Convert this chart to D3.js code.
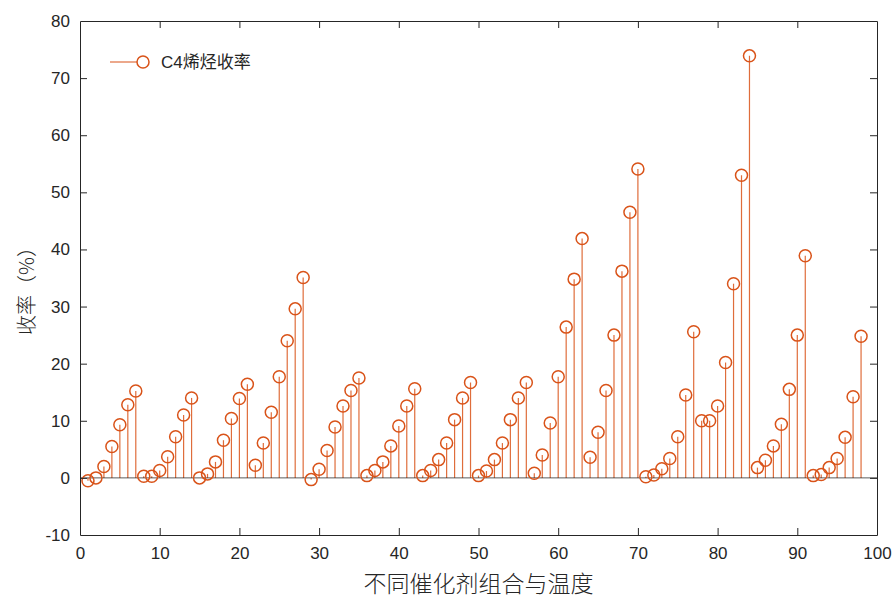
<!DOCTYPE html>
<html>
<head>
<meta charset="utf-8">
<script src="https://cdn.jsdelivr.net/npm/d3@7"></script>
<style>
  body { margin: 0; background: #fff; }
  svg { display: block; }
  text { font-family: "Liberation Sans", Arial, sans-serif; fill: #262626; }
</style>
</head>
<body>
<svg id="chart" width="893" height="598"></svg>
<script>
const seriesName = "C4烯烃收率";
const xLabel = "不同催化剂组合与温度";
const yLabel = "收率（%）";
const xTicks = [0, 10, 20, 30, 40, 50, 60, 70, 80, 90, 100];
const yTicks = [-10, 0, 10, 20, 30, 40, 50, 60, 70, 80];
const yields = [
  -0.5, 0, 2, 5.5, 9.3, 12.8, 15.2,
  0.3, 0.3, 1.3, 3.7, 7.2, 11, 14,
  0, 0.7, 2.8, 6.6, 10.4, 13.9, 16.4,
  2.2, 6.1, 11.5, 17.7, 24, 29.6, 35.1,
  -0.3, 1.5, 4.8, 8.9, 12.6, 15.3, 17.5,
  0.4, 1.3, 2.8, 5.6, 9.1, 12.6, 15.6,
  0.4, 1.3, 3.2, 6.1, 10.2, 14, 16.7,
  0.4, 1.2, 3.2, 6.1, 10.2, 14, 16.7,
  0.8, 4, 9.6, 17.7, 26.4, 34.8, 41.9,
  3.6, 8, 15.3, 25, 36.2, 46.5, 54.1,
  0.2, 0.5, 1.6, 3.4, 7.2, 14.5, 25.6,
  10, 10, 12.6, 20.2, 34, 53, 73.9,
  1.8, 3.1, 5.6, 9.4, 15.5, 25, 38.9,
  0.4, 0.6, 1.8, 3.4, 7.1, 14.2, 24.8
];

(function () {
const data = yields.map((v, i) => ({ x: i + 1, y: v }));

const color = "#D95319";
const axisColor = "#262626";
const mL = 80, mR = 877, mT = 21, mB = 535;

const svg = d3.select("#chart");
const x = d3.scaleLinear().domain([0, 100]).range([mL, mR]);
const y = d3.scaleLinear().domain([-10, 80]).range([mB, mT]);

// stems
svg.append("g").selectAll("line").data(data).join("line")
  .attr("x1", d => x(d.x)).attr("x2", d => x(d.x))
  .attr("y1", y(0)).attr("y2", d => y(d.y))
  .attr("stroke", color).attr("stroke-width", 1.2).attr("stroke-opacity", 0.85);

// baseline
svg.append("line")
  .attr("x1", x(0)).attr("x2", x(100)).attr("y1", y(0)).attr("y2", y(0))
  .attr("stroke", axisColor).attr("stroke-opacity", 0.75).attr("stroke-width", 1);

// markers
svg.append("g").selectAll("circle").data(data).join("circle")
  .attr("cx", d => x(d.x)).attr("cy", d => y(d.y)).attr("r", 6)
  .attr("fill", "none").attr("stroke", color).attr("stroke-width", 1.5);

// axes
const tickLen = 7;
const fmt = d => String(d);
const axB = svg.append("g").attr("transform", `translate(0,${mB})`)
  .call(d3.axisBottom(x).tickValues(xTicks).tickSizeInner(-tickLen).tickSizeOuter(0).tickPadding(12).tickFormat(fmt));
const axT = svg.append("g").attr("transform", `translate(0,${mT})`)
  .call(d3.axisTop(x).tickValues(xTicks).tickSizeInner(-tickLen).tickSizeOuter(0).tickFormat(""));
const axL = svg.append("g").attr("transform", `translate(${mL},0)`)
  .call(d3.axisLeft(y).tickValues(yTicks).tickSizeInner(-tickLen).tickSizeOuter(0).tickPadding(10).tickFormat(fmt));
const axR = svg.append("g").attr("transform", `translate(${mR},0)`)
  .call(d3.axisRight(y).tickValues(yTicks).tickSizeInner(-tickLen).tickSizeOuter(0).tickFormat(""));

[axB, axT, axL, axR].forEach(g => {
  g.selectAll("path.domain").attr("stroke", axisColor);
  g.selectAll(".tick line").attr("stroke", axisColor);
  g.selectAll(".tick text").attr("fill", axisColor)
    .style("font-family", '"Liberation Sans", Arial, sans-serif').style("font-size", "17px");
});
[axB, axT].forEach(g => g.selectAll(".tick line").filter(d => d === 0 || d === 100).remove());
[axL, axR].forEach(g => g.selectAll(".tick line").filter(d => d === -10 || d === 80).remove());

// axis titles
svg.append("text")
  .attr("x", (mL + mR) / 2).attr("y", 592)
  .attr("text-anchor", "middle")
  .style("font-family", '"Noto Sans CJK SC", sans-serif').style("font-size", "23px").style("font-weight", 300)
  .text(xLabel);
svg.append("text")
  .attr("transform", `translate(34,${(mT + mB) / 2 + 8}) rotate(-90)`)
  .attr("text-anchor", "middle")
  .style("font-family", '"Noto Sans CJK SC", sans-serif').style("font-size", "20px").style("font-weight", 300)
  .text(yLabel);

// legend
const lg = svg.append("g").attr("transform", "translate(110,62)");
lg.append("line").attr("x1", 0).attr("x2", 33).attr("y1", 0).attr("y2", 0)
  .attr("stroke", color).attr("stroke-width", 1.2);
lg.append("circle").attr("cx", 33).attr("cy", 0).attr("r", 6)
  .attr("fill", "#fff").attr("stroke", color).attr("stroke-width", 1.5);
lg.append("text").attr("x", 51).attr("y", 6)
  .style("font-family", '"Liberation Sans", "Noto Sans CJK SC", sans-serif').style("font-size", "17px")
  .text(seriesName);
})();
</script>
</body>
</html>
